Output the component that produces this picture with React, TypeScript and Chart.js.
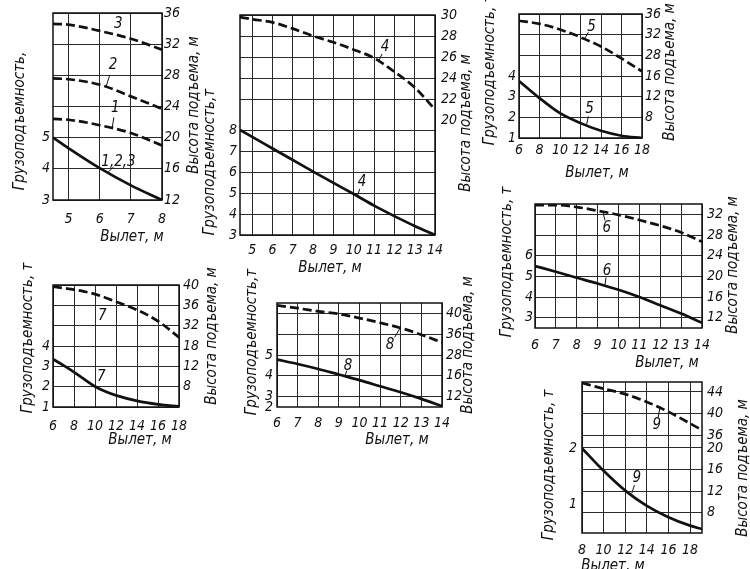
import React, { useEffect, useRef } from "react";
import { Chart, registerables } from "chart.js";

Chart.register(...registerables);

// ---------- Panel A (curves 1, 2, 3) ----------
const reachA = [4.5, 5, 6, 7, 8];
const loadA123 = [5.0, 4.66, 4.02, 3.47, 3.0];
const heightA1 = [22.4, 22.3, 21.6, 20.6, 19.0];
const heightA2 = [27.6, 27.5, 26.8, 25.3, 23.7];
const heightA3 = [34.6, 34.5, 33.7, 32.7, 31.3];
const xTicksA = [5, 6, 7, 8];
const loadTicksA = [3, 4, 5];
const heightTicksA = [12, 16, 20, 24, 28, 32, 36];

// ---------- Panel B (curve 4) ----------
const reachB = [4.4, 5, 6, 7, 8, 9, 10, 11, 12, 13, 14];
const loadB4 = [8.0, 7.67, 7.12, 6.57, 6.02, 5.48, 4.95, 4.4, 3.9, 3.43, 3.0];
const heightB4 = [29.8, 29.6, 29.3, 28.7, 28.0, 27.4, 26.7, 25.9, 24.6, 23.1, 21.0];
const xTicksB = [5, 6, 7, 8, 9, 10, 11, 12, 13, 14];
const loadTicksB = [3, 4, 5, 6, 7, 8];
const heightTicksB = [20, 22, 24, 26, 28, 30];

// ---------- Panel C (curve 5) ----------
const reachC = [6, 8, 10, 12, 14, 16, 18];
const loadC5 = [3.76, 2.93, 2.2, 1.72, 1.35, 1.11, 1.0];
const heightC5 = [34.7, 34.1, 33.0, 31.5, 29.7, 27.4, 24.9];
const xTicksC = [6, 8, 10, 12, 14, 16, 18];
const loadTicksC = [1, 2, 3, 4];
const heightTicksC = [12, 16, 20, 24, 28, 32, 36];
const heightLabelsC = ["", "8", "12", "16", "28", "32", "36"];

// ---------- Panel D (curve 6) ----------
const reachD = [6, 7, 8, 9, 10, 11, 12, 13, 14];
const loadD6 = [5.5, 5.22, 4.93, 4.65, 4.35, 4.0, 3.6, 3.2, 2.75];
const heightD6 = [33.8, 33.8, 33.4, 32.7, 31.9, 30.9, 29.8, 28.5, 26.7];
const xTicksD = [6, 7, 8, 9, 10, 11, 12, 13, 14];
const loadTicksD = [3, 4, 5, 6];
const heightTicksD = [12, 16, 20, 24, 28, 32];

// ---------- Panel E (curve 7) ----------
const reachE = [6, 7, 8, 9, 10, 11, 12, 14, 16, 18];
const loadE7 = [3.35, 3.05, 2.72, 2.36, 2.01, 1.76, 1.57, 1.3, 1.13, 1.03];
const heightE7 = [39.7, 39.4, 39.1, 38.7, 38.2, 37.5, 36.7, 35.1, 32.9, 29.7];
const xTicksE = [6, 8, 10, 12, 14, 16, 18];
const loadTicksE = [1, 2, 3, 4];
const heightTicksE = [16, 20, 24, 28, 32, 36, 40];
const heightLabelsE = ["", "8", "12", "18", "32", "36", "40"];

// ---------- Panel F (curve 8) ----------
const reachF = [6, 7, 8, 9, 10, 11, 12, 13, 14];
const loadF8 = [4.78, 4.57, 4.33, 4.06, 3.79, 3.5, 3.21, 2.89, 2.54];
const heightF8 = [41.55, 41.0, 40.4, 39.9, 39.1, 38.2, 37.2, 35.9, 34.4];
const xTicksF = [6, 7, 8, 9, 10, 11, 12, 13, 14];
const loadTicksF = [2.5, 3, 4, 5];
const loadLabelsF = ["2", "3", "4", "5"];
const heightTicksF = [24, 28, 32, 36, 40];
const heightLabelsF = ["12", "16", "28", "36", "40"];

// ---------- Panel G (curve 9) ----------
const reachG = [8, 10, 12, 14, 16, 18, 19.1];
const loadG9 = [2.0, 1.6, 1.25, 0.98, 0.78, 0.63, 0.57];
const heightG9 = [45.67, 44.6, 43.6, 42.15, 40.3, 38.15, 36.9];
const xTicksG = [8, 10, 12, 14, 16, 18];
const loadTicksG = [1, 2];
const heightTicksG = [21.6, 25.6, 29.6, 33.6, 36, 40, 44];
const heightLabelsG = ["8", "12", "16", "20", "36", "40", "44"];

const LOAD_T = "Грузоподъемность, т";
const HEIGHT_T = "Высота подъема, м";
const REACH_T = "Вылет, м";

const FONT = "'Liberation Sans Narrow', 'DejaVu Sans Condensed', 'Liberation Sans', Arial, sans-serif";
const INK = "#111";
const GRID = "#2a2a2a";
const W_AX = 30;
const H_AX = 25;

type CurveLabel = { text: string; axis: "y" | "y1"; x: number; y: number; dx: number; dy: number; leader: boolean };
type Title = { text: string; x: number; y: number; rot: boolean };
type Spec = {
  area: [number, number, number, number];
  x: [number, number];
  xTicks: number[];
  load: [number, number];
  loadTicks: number[];
  loadLabels?: string[];
  loadGrid: boolean;
  height: [number, number];
  heightTicks: number[];
  heightLabels?: string[];
  heightSkip?: number[];
  reach: number[];
  solid: number[][];
  dashed: number[][];
  pad: { x: number; l: number; r: number };
  labels: CurveLabel[];
  titles: Title[];
};

const panels: Spec[] = [
  {
    area: [53, 13, 162, 200],
    x: [4.5, 8], xTicks: xTicksA,
    load: [3, 9], loadTicks: loadTicksA, loadGrid: false,
    height: [12, 36], heightTicks: heightTicksA,
    reach: reachA, solid: [loadA123], dashed: [heightA1, heightA2, heightA3],
    pad: { x: 11, l: 3, r: 2 },
    labels: [
      { text: "3", axis: "y1", x: 6.6, y: 33.1, dx: 0, dy: -11, leader: false },
      { text: "2", axis: "y1", x: 6.2, y: 26.5, dx: 7, dy: -22, leader: true },
      { text: "1", axis: "y1", x: 6.4, y: 21.2, dx: 3, dy: -20, leader: true },
      { text: "1,2,3", axis: "y", x: 6.25, y: 3.87, dx: 11, dy: -11, leader: true },
    ],
    titles: [
      { text: "Грузоподъемность,", x: 20, y: 121, rot: true },
      { text: HEIGHT_T, x: 194, y: 105, rot: true },
      { text: REACH_T, x: 132, y: 237, rot: false },
    ],
  },
  {
    area: [240, 15, 435, 235],
    x: [4.4, 14], xTicks: xTicksB,
    load: [3, 3 + 220 / 21], loadTicks: loadTicksB, loadGrid: true,
    height: [30 - 220 / 10.5, 30], heightTicks: heightTicksB, heightSkip: [20],
    reach: reachB, solid: [loadB4], dashed: [heightB4],
    pad: { x: 7, l: 3, r: 6 },
    labels: [
      { text: "4", axis: "y1", x: 11.2, y: 25.5, dx: 7, dy: -15, leader: true },
      { text: "4", axis: "y", x: 10.16, y: 4.8, dx: 5, dy: -15, leader: true },
    ],
    titles: [
      { text: "Грузоподъемность,т", x: 210, y: 162, rot: true },
      { text: HEIGHT_T, x: 466, y: 123, rot: true },
      { text: REACH_T, x: 330, y: 268, rot: false },
    ],
  },
  {
    area: [519, 14, 642, 138],
    x: [6, 18], xTicks: xTicksC,
    load: [1, 7], loadTicks: loadTicksC, loadGrid: false,
    height: [12, 36], heightTicks: heightTicksC, heightLabels: heightLabelsC,
    reach: reachC, solid: [loadC5], dashed: [heightC5],
    pad: { x: 4, l: 3, r: 3 },
    labels: [
      { text: "5", axis: "y1", x: 12.4, y: 31.2, dx: 7, dy: -12, leader: true },
      { text: "5", axis: "y", x: 12.6, y: 1.65, dx: 3, dy: -15, leader: true },
    ],
    titles: [
      { text: LOAD_T, x: 490, y: 70, rot: true },
      { text: HEIGHT_T, x: 670, y: 72, rot: true },
      { text: REACH_T, x: 597, y: 173, rot: false },
    ],
  },
  {
    area: [535, 204, 702, 328],
    x: [6, 14], xTicks: xTicksD,
    load: [2.5, 8.5], loadTicks: loadTicksD, loadGrid: false,
    height: [10, 34], heightTicks: heightTicksD,
    reach: reachD, solid: [loadD6], dashed: [heightD6],
    pad: { x: 9, l: 2, r: 5 },
    labels: [
      { text: "6", axis: "y1", x: 9.25, y: 32.5, dx: 4, dy: 16, leader: true },
      { text: "6", axis: "y", x: 9.35, y: 4.55, dx: 2, dy: -15, leader: true },
    ],
    titles: [
      { text: LOAD_T, x: 507, y: 262, rot: true },
      { text: HEIGHT_T, x: 733, y: 265, rot: true },
      { text: REACH_T, x: 667, y: 363, rot: false },
    ],
  },
  {
    area: [53, 285, 179, 407],
    x: [6, 18], xTicks: xTicksE,
    load: [1, 7], loadTicks: loadTicksE, loadGrid: false,
    height: [16, 40], heightTicks: heightTicksE, heightLabels: heightLabelsE,
    reach: reachE, solid: [loadE7], dashed: [heightE7],
    pad: { x: 11, l: 3, r: 4 },
    labels: [
      { text: "7", axis: "y1", x: 10.7, y: 37.4, dx: 0, dy: 18, leader: false },
      { text: "7", axis: "y", x: 10.6, y: 1.86, dx: 0, dy: -12, leader: false },
    ],
    titles: [
      { text: LOAD_T, x: 28, y: 338, rot: true },
      { text: HEIGHT_T, x: 212, y: 336, rot: true },
      { text: REACH_T, x: 140, y: 440, rot: false },
    ],
  },
  {
    area: [277, 303, 442, 407],
    x: [6, 14], xTicks: xTicksF,
    load: [2.5, 7.5], loadTicks: loadTicksF, loadLabels: loadLabelsF, loadGrid: false,
    height: [22, 42], heightTicks: heightTicksF, heightLabels: heightLabelsF,
    reach: reachF, solid: [loadF8], dashed: [heightF8],
    pad: { x: 8, l: 4, r: 4 },
    labels: [
      { text: "8", axis: "y1", x: 11.97, y: 37.2, dx: -10, dy: 17, leader: true },
      { text: "8", axis: "y", x: 9.3, y: 3.98, dx: 3, dy: -10, leader: true },
    ],
    titles: [
      { text: "Грузоподъемность,т", x: 252, y: 342, rot: true },
      { text: HEIGHT_T, x: 468, y: 345, rot: true },
      { text: REACH_T, x: 397, y: 440, rot: false },
    ],
  },
  {
    area: [582, 382, 702, 533],
    x: [8, 19.1], xTicks: xTicksG,
    load: [0.5, 3.17], loadTicks: loadTicksG, loadGrid: false,
    height: [17.8, 45.85], heightTicks: heightTicksG, heightLabels: heightLabelsG,
    reach: reachG, solid: [loadG9], dashed: [heightG9],
    pad: { x: 9, l: 5, r: 5 },
    labels: [
      { text: "9", axis: "y1", x: 15.2, y: 41.0, dx: -3, dy: 17, leader: true },
      { text: "9", axis: "y", x: 12.6, y: 1.2, dx: 5, dy: -15, leader: true },
    ],
    titles: [
      { text: LOAD_T, x: 549, y: 465, rot: true },
      { text: HEIGHT_T, x: 743, y: 468, rot: true },
      { text: REACH_T, x: 613, y: 566, rot: false },
    ],
  },
];

const tickFont = { family: FONT, size: 14, style: "italic" as const };

function buildChart(canvas: HTMLCanvasElement, s: Spec): Chart {
  const [L, T, R, B] = s.area;
  const toPts = (ys: number[]) => s.reach.map((x, i) => ({ x, y: ys[i] }));
  const datasets: any[] = [
    ...s.solid.map((ys) => ({
      data: toPts(ys), yAxisID: "y", borderColor: INK, borderWidth: 2.7,
      pointRadius: 0, cubicInterpolationMode: "monotone", fill: false,
    })),
    ...s.dashed.map((ys) => ({
      data: toPts(ys), yAxisID: "y1", borderColor: INK, borderWidth: 2.7, borderDash: [9, 4],
      pointRadius: 0, cubicInterpolationMode: "monotone", fill: false,
    })),
  ];

  const decor = {
    id: "decor",
    afterDraw(chart: any) {
      const ctx = chart.ctx as CanvasRenderingContext2D;
      const a = chart.chartArea;
      ctx.save();
      ctx.strokeStyle = INK;
      ctx.lineWidth = 1.5;
      ctx.strokeRect(a.left, a.top, a.right - a.left, a.bottom - a.top);
      ctx.fillStyle = INK;
      ctx.font = `italic 15px ${FONT}`;
      ctx.textAlign = "center";
      ctx.textBaseline = "middle";
      for (const lb of s.labels) {
        const px = chart.scales.x.getPixelForValue(lb.x);
        const py = chart.scales[lb.axis].getPixelForValue(lb.y);
        if (lb.leader) {
          ctx.lineWidth = 1;
          ctx.beginPath();
          ctx.moveTo(px, py);
          ctx.lineTo(px + lb.dx * 0.55, py + lb.dy * 0.55);
          ctx.stroke();
        }
        ctx.fillText(lb.text, px + lb.dx, py + lb.dy);
      }
      for (const t of s.titles) {
        ctx.save();
        ctx.translate(t.x, t.y);
        if (t.rot) ctx.rotate(-Math.PI / 2);
        ctx.fillText(t.text, 0, 0);
        ctx.restore();
      }
      ctx.restore();
    },
  };

  const skip = s.heightSkip || [];
  return new Chart(canvas, {
    type: "line",
    data: { datasets },
    options: {
      animation: false,
      responsive: false,
      events: [],
      layout: { padding: { left: L - W_AX, right: 750 - R - W_AX, top: T, bottom: 569 - B - H_AX } },
      plugins: { legend: { display: false }, tooltip: { enabled: false } },
      scales: {
        x: {
          type: "linear", position: "bottom", min: s.x[0], max: s.x[1],
          afterBuildTicks: (sc: any) => { sc.ticks = s.xTicks.map((v) => ({ value: v })); },
          afterFit: (sc: any) => { sc.height = H_AX; },
          grid: { color: GRID, lineWidth: 1, drawTicks: false },
          border: { display: false },
          ticks: { autoSkip: false, maxRotation: 0, padding: s.pad.x, color: INK, font: tickFont, callback: (v: any) => String(v) },
        },
        y: {
          type: "linear", position: "left", min: s.load[0], max: s.load[1],
          afterBuildTicks: (sc: any) => { sc.ticks = s.loadTicks.map((v) => ({ value: v })); },
          afterFit: (sc: any) => { sc.width = W_AX; },
          grid: { display: s.loadGrid, color: GRID, lineWidth: 1, drawTicks: false },
          border: { display: false },
          ticks: {
            padding: s.pad.l, color: INK, font: tickFont,
            callback: (v: any, i: number) => (s.loadLabels ? s.loadLabels[i] : String(v)),
          },
        },
        y1: {
          type: "linear", position: "right", min: s.height[0], max: s.height[1],
          afterBuildTicks: (sc: any) => { sc.ticks = s.heightTicks.map((v) => ({ value: v })); },
          afterFit: (sc: any) => { sc.width = W_AX; },
          grid: {
            color: (c: any) => (c.tick && skip.includes(c.tick.value) ? "rgba(0,0,0,0)" : GRID),
            lineWidth: 1, drawTicks: false,
          },
          border: { display: false },
          ticks: {
            padding: s.pad.r, color: INK, font: tickFont,
            callback: (v: any, i: number) => (s.heightLabels ? s.heightLabels[i] : String(v)),
          },
        },
      },
    } as any,
    plugins: [decor],
  });
}

function Panel({ spec }: { spec: Spec }) {
  const ref = useRef<HTMLCanvasElement | null>(null);
  useEffect(() => {
    if (!ref.current) return;
    const ch = buildChart(ref.current, spec);
    return () => ch.destroy();
  }, [spec]);
  return (
    <canvas
      ref={ref}
      width={750}
      height={569}
      style={{ position: "absolute", left: 0, top: 0, width: 750, height: 569 }}
    />
  );
}

export default function App() {
  return (
    <div style={{ position: "absolute", left: 0, top: 0, width: 750, height: 569, background: "#fff" }}>
      {panels.map((p, i) => (
        <Panel key={i} spec={p} />
      ))}
    </div>
  );
}
